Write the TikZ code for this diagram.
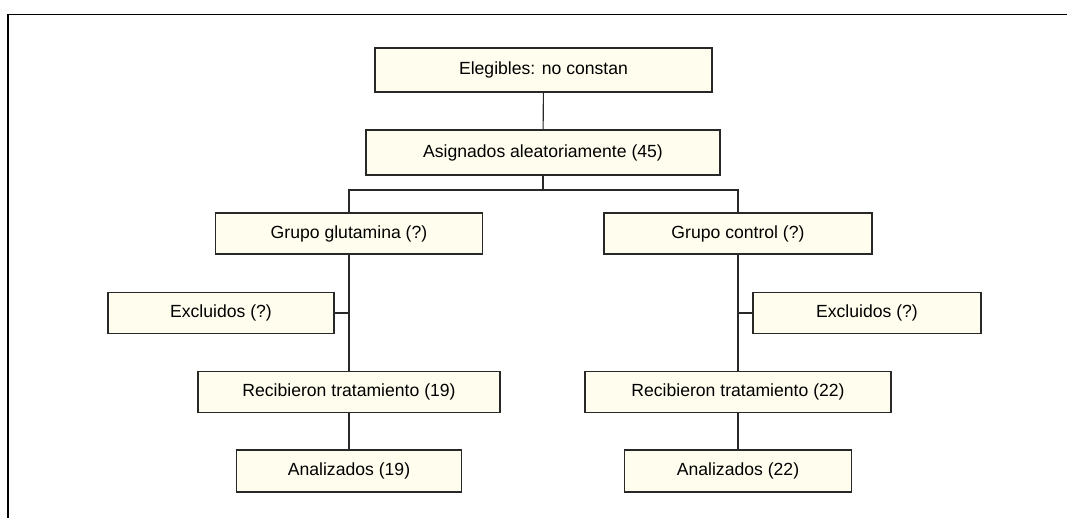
\documentclass[tikz,border=0pt]{standalone}
\usepackage{fontspec}
\setmainfont{Liberation Sans}
\definecolor{boxfill}{RGB}{255,254,238}
\definecolor{boxline}{RGB}{40,40,40}
\begin{document}
\begin{tikzpicture}[x=1pt, y=-1pt,
    flowbox/.style={draw=boxline, line width=1.1pt, fill=boxfill, inner sep=0pt,
        minimum height=41pt, font=\fontsize{17.6}{21}\selectfont},
    link/.style={draw=boxline, line width=1.1pt}]

    % Size of the page, the reference's margins included.
    \useasboundingbox (0,0) rectangle (1067,518);

    %% ------
    %% The boxes sit on fixed coordinates (pixels of the reference),
    %% the left column at x=349, the right one at x=738
    %% ----

    % frame
    \draw[line width=1.6pt, black] (8,518) -- (8,14.5) -- (1067,14.5);

    % top
    \node[flowbox, minimum width=337pt, minimum height=44pt] (elig) at (543.5, 70) {Elegibles: no constan};
    \node[flowbox, minimum width=354pt, minimum height=45pt] (asig) at (543, 152.5) {Asignados aleatoriamente (45)};
    \draw[link] (elig) -- (asig);

    % groups
    \coordinate (split) at (543, 190);
    \node[flowbox, minimum width=267pt] (glut) at (349, 233.5) {Grupo glutamina (?)};
    \node[flowbox, minimum width=268pt] (ctrl) at (738, 233.5) {Grupo control (?)};
    \draw[link] (asig) -- (split);
    \draw[link] (glut.north) |- (split) -| (ctrl.north);

    % left column
    \node[flowbox, minimum width=226pt] (exclL) at (221, 313) {Excluidos (?)};
    \node[flowbox, minimum width=302pt] (recL) at (349, 392) {Recibieron tratamiento (19)};
    \node[flowbox, minimum width=225pt, minimum height=42pt] (anaL) at (349, 471) {Analizados (19)};
    \draw[link] (glut) -- (recL);
    \draw[link] (exclL.east) -- (exclL.east -| glut.south);
    \draw[link] (recL) -- (anaL);

    % right column
    \node[flowbox, minimum width=228pt] (exclR) at (867, 313) {Excluidos (?)};
    \node[flowbox, minimum width=306pt] (recR) at (738, 392) {Recibieron tratamiento (22)};
    \node[flowbox, minimum width=227pt, minimum height=42pt] (anaR) at (738, 471) {Analizados (22)};
    \draw[link] (ctrl) -- (recR);
    \draw[link] (exclR.west) -- (exclR.west -| ctrl.south);
    \draw[link] (recR) -- (anaR);

\end{tikzpicture}
\end{document}
